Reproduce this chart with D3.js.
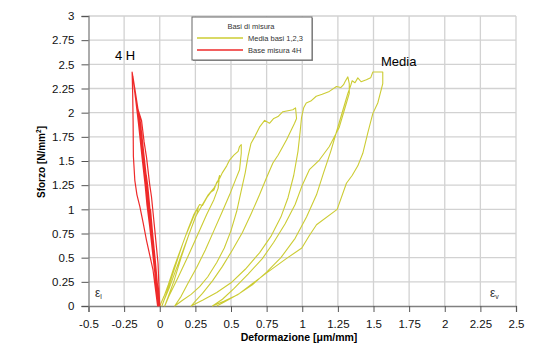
<!DOCTYPE html>
<html>
<head>
<meta charset="utf-8">
<script src="https://cdn.jsdelivr.net/npm/d3@7"></script>
<style>
  body { margin: 0; background: #fff; }
  text { font-family: "Liberation Sans", Arial, sans-serif; }
</style>
</head>
<body>
<svg id="chart" width="539" height="344"></svg>
<script>
// tick values / labels
const xTicks = [-0.5, -0.25, 0, 0.25, 0.5, 0.75, 1, 1.25, 1.5, 1.75, 2, 2.25, 2.5];
const xTickLabels = ["-0.5", "-0.25", "0", "0.25", "0.5", "0.75", "1", "1.25", "1.5", "1.75", "2", "2.25", "2.5"];
const yTicks = [0, 0.25, 0.5, 0.75, 1, 1.25, 1.5, 1.75, 2, 2.25, 2.5, 2.75, 3];
const yTickLabels = ["0", "0.25", "0.5", "0.75", "1", "1.25", "1.5", "1.75", "2", "2.25", "2.5", "2.75", "3"];

const seriesNames = ["Media basi 1,2,3", "Base misura 4H"];

// Media basi 1,2,3  [deformazione, sforzo]
const media = [
  [0,0],[0.03,0.1],[0.06,0.22],[0.1,0.4],[0.14,0.56],[0.18,0.72],[0.22,0.86],[0.25,0.97],[0.27,1.02],
  [0.26,0.95],[0.22,0.8],[0.17,0.6],[0.12,0.4],[0.07,0.2],[0.03,0.06],[0.015,0],
  [0.04,0.1],[0.08,0.28],[0.12,0.46],[0.16,0.64],[0.2,0.8],[0.24,0.95],[0.28,1.05],[0.3,1.04],[0.33,1.12],[0.36,1.18],[0.38,1.2],[0.4,1.28],[0.41,1.3],[0.42,1.35],
  [0.41,1.22],[0.38,1.1],[0.33,0.95],[0.27,0.75],[0.2,0.52],[0.13,0.3],[0.07,0.12],[0.035,0],
  [0.06,0.1],[0.1,0.26],[0.15,0.5],[0.2,0.72],[0.25,0.92],[0.3,1.05],[0.34,1.15],[0.38,1.22],[0.42,1.32],[0.44,1.38],[0.47,1.45],[0.49,1.51],[0.52,1.56],[0.55,1.6],[0.56,1.65],[0.572,1.67],
  [0.572,1.58],[0.56,1.41],[0.53,1.3],[0.49,1.15],[0.44,0.98],[0.38,0.78],[0.32,0.58],[0.26,0.4],[0.2,0.24],[0.15,0.1],[0.105,0],
  [0.16,0.06],[0.22,0.12],[0.28,0.2],[0.336,0.3],[0.4,0.45],[0.453,0.6],[0.5,0.78],[0.54,0.98],[0.57,1.18],[0.6,1.38],[0.62,1.55],[0.64,1.68],[0.67,1.76],[0.7,1.85],[0.736,1.92],[0.77,1.89],[0.8,1.94],[0.83,1.96],[0.864,2.01],[0.9,2.02],[0.934,2.03],[0.953,2.05],
  [0.96,1.94],[0.946,1.89],[0.923,1.82],[0.89,1.72],[0.864,1.65],[0.83,1.56],[0.794,1.48],[0.75,1.33],[0.7,1.15],[0.64,0.95],[0.58,0.76],[0.51,0.58],[0.44,0.41],[0.37,0.26],[0.3,0.13],[0.25,0.05],[0.22,0],
  [0.3,0.06],[0.4,0.14],[0.5,0.24],[0.6,0.38],[0.7,0.55],[0.78,0.72],[0.85,0.92],[0.9,1.12],[0.94,1.35],[0.97,1.6],[0.985,1.8],[0.995,1.95],[1.01,2.05],[1.028,2.1],[1.06,2.12],[1.098,2.17],[1.14,2.19],[1.19,2.22],[1.24,2.27],[1.27,2.26],[1.29,2.29],[1.3,2.32],[1.32,2.37],[1.33,2.3],
  [1.33,2.2],[1.296,2.03],[1.26,1.85],[1.19,1.65],[1.12,1.51],[1.05,1.41],[1.0,1.25],[0.95,1.05],[0.88,0.85],[0.8,0.66],[0.72,0.49],[0.62,0.33],[0.52,0.18],[0.44,0.07],[0.37,0],
  [0.45,0.05],[0.55,0.12],[0.65,0.22],[0.75,0.35],[0.85,0.5],[0.95,0.7],[1.03,0.92],[1.1,1.15],[1.15,1.38],[1.2,1.6],[1.24,1.8],[1.27,1.95],[1.3,2.1],[1.32,2.2],[1.34,2.28],[1.35,2.33],[1.37,2.31],[1.39,2.36],[1.413,2.32],[1.45,2.34],[1.48,2.36],[1.495,2.42],[1.565,2.42],
  [1.565,2.3],[1.53,2.1],[1.495,1.99],[1.46,1.79],[1.425,1.58],[1.39,1.45],[1.35,1.35],[1.31,1.27],[1.245,1.0],[1.1,0.84],[1.05,0.73],[0.997,0.6],[0.888,0.49],[0.748,0.34],[0.654,0.235],[0.56,0.13],[0.5,0.08],[0.44,0.03],[0.4,0]
];

// Base misura 4H  [deformazione, sforzo]
const base4H = [
  [0,0],[-0.015,0.2],[-0.03,0.45],[-0.05,0.75],[-0.065,1.0],[-0.06,0.9],[-0.045,0.65],[-0.025,0.35],[-0.005,0],
  [-0.02,0.25],[-0.04,0.55],[-0.06,0.85],[-0.075,1.1],[-0.085,1.25],[-0.095,1.36],[-0.085,1.2],[-0.065,0.9],[-0.045,0.6],[-0.025,0.3],[-0.008,0],
  [-0.025,0.25],[-0.05,0.6],[-0.075,0.95],[-0.095,1.25],[-0.11,1.5],[-0.12,1.67],[-0.11,1.5],[-0.09,1.2],[-0.065,0.85],[-0.04,0.5],[-0.02,0.2],[-0.01,0],
  [-0.03,0.3],[-0.06,0.7],[-0.09,1.05],[-0.115,1.45],[-0.135,1.75],[-0.145,1.95],[-0.155,2.05],[-0.14,1.95],[-0.128,1.8],[-0.11,1.55],[-0.09,1.28],[-0.065,0.95],[-0.04,0.6],[-0.02,0.25],[-0.012,0],
  [-0.035,0.35],[-0.065,0.75],[-0.095,1.15],[-0.125,1.55],[-0.15,1.9],[-0.17,2.15],[-0.183,2.3],[-0.188,2.37],[-0.17,2.2],[-0.15,2.0],[-0.13,1.75],[-0.105,1.45],[-0.08,1.1],[-0.055,0.72],[-0.03,0.35],[-0.015,0],
  [-0.047,0.37],[-0.093,0.68],[-0.115,0.85],[-0.14,1.03],[-0.16,1.15],[-0.175,1.3],[-0.185,1.55],[-0.187,1.91],[-0.19,2.2],[-0.194,2.42],[-0.175,2.25],[-0.152,2.03],[-0.128,1.92],[-0.11,1.7],[-0.093,1.54],[-0.07,1.25],[-0.058,1.13],[-0.035,0.79],[-0.012,0.44],[-0.003,0.1],[0,0]
];

const svg = d3.select("#chart");
const yellow = "#cccc33", red = "#ee2a2a";

const x = d3.scaleLinear().domain([-0.5, 2.5]).range([88.5, 516]);
const y = d3.scaleLinear().domain([0, 3]).range([306, 16]);

// grid
svg.append("g")
    .selectAll("line")
    .data(xTicks.slice(1))
    .join("line")
    .attr("x1", d => x(d)).attr("x2", d => x(d))
    .attr("y1", y(0)).attr("y2", y(3))
    .attr("stroke", "#d2d2d2")
    .attr("stroke-width", 1.3);

svg.append("g")
    .selectAll("line")
    .data(yTicks.slice(1))
    .join("line")
    .attr("x1", x(-0.5)).attr("x2", x(2.5))
    .attr("y1", d => y(d)).attr("y2", d => y(d))
    .attr("stroke", "#d2d2d2")
    .attr("stroke-width", 1.3);

// axes
const xAxis = d3.axisBottom(x)
    .tickValues(xTicks)
    .tickSize(6)
    .tickFormat((d, i) => xTickLabels[i]);
const yAxis = d3.axisLeft(y)
    .tickValues(yTicks)
    .tickSize(7)
    .tickPadding(7)
    .tickFormat((d, i) => yTickLabels[i]);

svg.append("g")
    .attr("transform", `translate(0,${y(0)})`)
    .call(xAxis)
    .call(g => g.select(".domain").attr("stroke", "#808080").attr("stroke-width", 1.3))
    .call(g => g.selectAll(".tick line").attr("stroke", "#555"))
    .call(g => g.selectAll(".tick text")
        .attr("font-family", "Liberation Sans, Arial, sans-serif")
        .attr("font-size", "11.5px").attr("fill", "#111").attr("dy", "1.1em"));

svg.append("g")
    .attr("transform", `translate(${x(-0.5)},0)`)
    .call(yAxis)
    .call(g => g.select(".domain").attr("stroke", "#808080").attr("stroke-width", 1.3))
    .call(g => g.selectAll(".tick line").attr("stroke", "#555"))
    .call(g => g.selectAll(".tick text")
        .attr("font-family", "Liberation Sans, Arial, sans-serif")
        .attr("font-size", "11.5px").attr("fill", "#111"));

// curves
const line = d3.line()
    .x(d => x(d[0]))
    .y(d => y(d[1]));

svg.append("path")
    .datum(media)
    .attr("fill", "none")
    .attr("stroke", yellow)
    .attr("stroke-width", 1.1)
    .attr("stroke-linejoin", "round")
    .attr("d", line);

svg.append("path")
    .datum(base4H)
    .attr("fill", "none")
    .attr("stroke", red)
    .attr("stroke-width", 1.2)
    .attr("stroke-linejoin", "round")
    .attr("d", line);

// axis titles
svg.append("text")
    .attr("transform", "translate(45,162) rotate(-90)")
    .attr("text-anchor", "middle")
    .style("font-size", "10px")
    .style("font-weight", "bold")
    .call(t => t.append("tspan").text("Sforzo [N/mm"))
    .call(t => t.append("tspan").attr("dy", -4).style("font-size", "6.5px").text("2"))
    .call(t => t.append("tspan").attr("dy", 4).text("]"));

svg.append("text")
    .attr("x", 299)
    .attr("y", 341)
    .attr("text-anchor", "middle")
    .style("font-size", "10.5px")
    .style("font-weight", "bold")
    .text("Deformazione  [μm/mm]");

// labels on plot
svg.append("text").attr("x", 115).attr("y", 60).style("font-size", "13px").text("4 H");
svg.append("text").attr("x", 381).attr("y", 66).style("font-size", "13px").text("Media");

svg.append("text").attr("x", 95).attr("y", 297).style("font-size", "12px").attr("fill", "#333")
    .call(t => t.append("tspan").text("ε"))
    .call(t => t.append("tspan").attr("dy", 2).style("font-size", "7px").text("l"));
svg.append("text").attr("x", 490).attr("y", 297).style("font-size", "12px").attr("fill", "#333")
    .call(t => t.append("tspan").text("ε"))
    .call(t => t.append("tspan").attr("dy", 2).style("font-size", "7px").text("v"));

// legend
const legend = svg.append("g").attr("transform", "translate(192,17)");
legend.append("rect")
    .attr("x", 1).attr("y", 1).attr("width", 120).attr("height", 43)
    .attr("fill", "#999");
legend.append("rect")
    .attr("width", 120).attr("height", 43)
    .attr("fill", "#fff")
    .attr("stroke", "#666")
    .attr("stroke-width", 1);
legend.append("text")
    .attr("x", 59).attr("y", 12)
    .attr("text-anchor", "middle")
    .style("font-size", "7.5px")
    .attr("fill", "#333")
    .text("Basi di misura");

legend.selectAll("g.item")
    .data(seriesNames)
    .join("g")
    .attr("class", "item")
    .attr("transform", (d, i) => `translate(0,${21 + i * 12})`)
    .call(g => g.append("line")
        .attr("x1", 5).attr("x2", 51)
        .attr("stroke", (d, i) => i === 0 ? yellow : red)
        .attr("stroke-width", 1.5))
    .call(g => g.append("text")
        .attr("x", 56).attr("y", 0)
        .attr("dy", "0.35em")
        .style("font-size", "7.5px")
        .attr("fill", "#333")
        .text(d => d));
</script>
</body>
</html>
